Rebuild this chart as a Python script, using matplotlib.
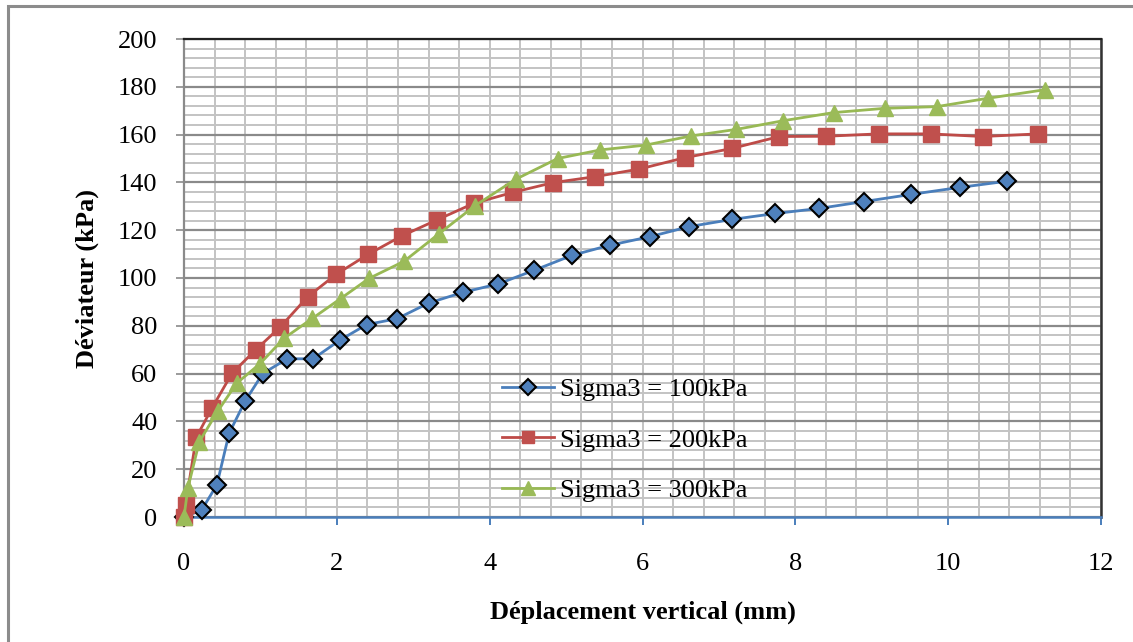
import matplotlib
matplotlib.use("Agg")
import matplotlib.pyplot as plt
from matplotlib.patches import Rectangle
from matplotlib.ticker import MultipleLocator

plt.rcParams['font.family'] = ['Liberation Serif', 'DejaVu Serif']

# Data
x_100 = [0.0, 0.23, 0.43, 0.59, 0.80, 1.03, 1.35, 1.69, 2.04, 2.39, 2.79, 3.20, 3.65, 4.11,
         4.58, 5.08, 5.57, 6.10, 6.61, 7.17, 7.74, 8.31, 8.90, 9.52, 10.15, 10.77]
y_100 = [0.0, 2.9, 13.4, 35.0, 48.5, 60.0, 66.2, 66.2, 74.0, 80.5, 83.0, 89.5, 94.0, 97.5,
         103.2, 109.5, 113.7, 117.3, 121.5, 124.5, 127.0, 129.1, 132.0, 135.0, 137.9, 140.5]

x_200 = [0.0, 0.02, 0.16, 0.37, 0.63, 0.94, 1.26, 1.62, 1.99, 2.41, 2.85, 3.31, 3.79, 4.30,
         4.83, 5.38, 5.96, 6.55, 7.17, 7.79, 8.40, 9.09, 9.77, 10.45, 11.18]
y_200 = [0.0, 5.0, 33.3, 45.8, 60.2, 70.0, 79.5, 92.2, 101.5, 109.9, 117.6, 124.3, 131.2, 135.8,
         139.9, 142.4, 145.6, 150.3, 154.2, 159.2, 159.3, 160.3, 160.3, 159.2, 160.3]

x_300 = [0.0, 0.05, 0.20, 0.44, 0.69, 0.99, 1.31, 1.68, 2.05, 2.42, 2.88, 3.34, 3.81, 4.34,
         4.89, 5.45, 6.04, 6.63, 7.23, 7.84, 8.50, 9.17, 9.85, 10.52, 11.27]
y_300 = [0.0, 12.0, 31.5, 44.2, 56.0, 64.0, 74.8, 83.1, 91.4, 99.8, 107.0, 118.6, 130.3, 141.3,
         150.0, 153.6, 155.6, 159.4, 162.2, 165.8, 169.2, 171.0, 171.7, 175.2, 178.8]

labels = ["Sigma3 = 100kPa", "Sigma3 = 200kPa", "Sigma3 = 300kPa"]
x_ticks = [0, 2, 4, 6, 8, 10, 12]
y_ticks = [0, 20, 40, 60, 80, 100, 120, 140, 160, 180, 200]

fig = plt.figure(figsize=(11.33, 6.42), dpi=100)
ax = fig.add_axes([184/1133, 1-517/642, (1101-184)/1133, (517-39)/642])

# outer chart border
fig.patches.append(Rectangle((8/1133, -0.05), 1.2, 1 - 6/642 + 0.05, transform=fig.transFigure,
                             fill=False, edgecolor='#8c8c8c', linewidth=2.2, zorder=0))

ax.set_xlim(0, 12)
ax.set_ylim(0, 200)
ax.set_xticks(x_ticks)
ax.set_yticks(y_ticks)
ax.xaxis.set_minor_locator(MultipleLocator(0.4))
ax.yaxis.set_minor_locator(MultipleLocator(4))

ax.grid(which='minor', axis='both', color='#c3c3c3', linewidth=1.4)
ax.grid(which='major', axis='x', color='#c3c3c3', linewidth=1.4)
ax.grid(which='major', axis='y', color='#8a8a8a', linewidth=1.6)
ax.set_axisbelow(True)

ax.tick_params(axis='both', which='minor', length=0)
ax.tick_params(axis='x', which='major', direction='out', length=6, width=1.4, color='#4a7ebb',
               labelsize=19, pad=20)
ax.tick_params(axis='y', which='major', direction='out', length=6, width=1.2, color='#8a8a8a',
               labelsize=19, pad=13)

ax.spines['bottom'].set_color('#4a7ebb')
ax.spines['bottom'].set_linewidth(1.8)
ax.spines['left'].set_color('#8a8a8a')
ax.spines['left'].set_linewidth(1.6)
ax.spines['top'].set_color('#222222')
ax.spines['top'].set_linewidth(1.6)
ax.spines['right'].set_color('#333333')
ax.spines['right'].set_linewidth(1.8)

ax.plot(x_100, y_100, color='#4a7ebb', linewidth=2.0, marker='D', markersize=9,
        markerfacecolor='#4f81bd', markeredgecolor='black', markeredgewidth=1.5,
        label=labels[0], clip_on=False, zorder=3)
ax.plot(x_200, y_200, color='#be4b48', linewidth=2.0, marker='s', markersize=11,
        markerfacecolor='#c0504d', markeredgecolor='#c0504d',
        label=labels[1], clip_on=False, zorder=4)
ax.plot(x_300, y_300, color='#98b954', linewidth=2.0, marker='^', markersize=12,
        markerfacecolor='#9bbb59', markeredgecolor='#9bbb59',
        label=labels[2], clip_on=False, zorder=5)

leg = ax.legend(loc='upper left', bbox_to_anchor=((491-184)/917, (517-367)/478),
                frameon=False, fontsize=19, handlelength=2.0, handletextpad=0.2,
                labelspacing=1.03, borderaxespad=0, markerscale=0.85)

ax.set_xlabel('Déplacement vertical (mm)', fontsize=19, fontweight='bold', labelpad=18)
ax.set_ylabel('Déviateur (kPa)', fontsize=19, fontweight='bold', labelpad=14)

fig.savefig('out.png', dpi=100)
